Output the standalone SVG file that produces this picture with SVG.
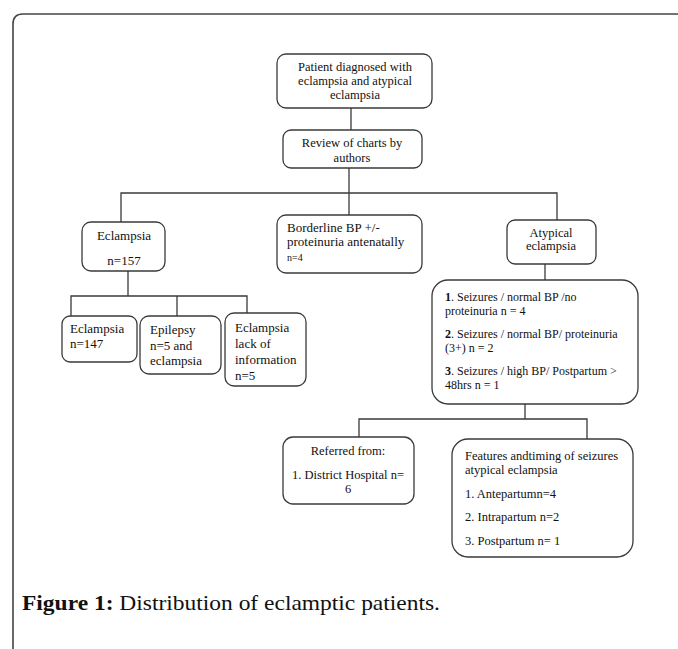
<svg xmlns="http://www.w3.org/2000/svg" width="678" height="649" viewBox="0 0 678 649">
<style>
.box{fill:#fff;stroke:#3a3a3a;stroke-width:1.3}
.ln{fill:none;stroke:#3a3a3a;stroke-width:1.3}
text{font-family:"Liberation Serif","Times New Roman",serif;font-size:12.5px;fill:#111}
.c{text-anchor:middle}
.b{font-weight:bold}
.sm{font-size:10px}
.lg{font-size:13px}
.t{font-size:12px}
.cap{font-size:21px;fill:#111}
</style>
<rect width="678" height="649" fill="#fff"/>
<path d="M13,649 V24 Q13,14 23,14 H678" fill="none" stroke="#444" stroke-width="1.6"/>
<g id="connectors">
<path class="ln" d="M351,108 V130"/>
<path class="ln" d="M349,168 V215"/>
<path class="ln" d="M121,222 V193 H557 V220"/>
<path class="ln" d="M128,271 V296"/>
<path class="ln" d="M71,316 V296 H247 V313"/>
<path class="ln" d="M177,296 V316"/>
<path class="ln" d="M545,264 V280"/>
<path class="ln" d="M525,404 V419"/>
<path class="ln" d="M359,437 V419 H587 V439"/>
</g>
<g id="n1"><rect class="box" x="277" y="54" width="155" height="54" rx="9"/>
<text class="c" x="355" y="71">Patient diagnosed with</text>
<text class="c" x="355" y="85">eclampsia and atypical</text>
<text class="c" x="355" y="99">eclampsia</text></g>
<g id="n2"><rect class="box" x="283" y="130" width="139" height="38" rx="8"/>
<text class="c" x="352" y="147">Review of charts by</text>
<text class="c" x="352" y="162">authors</text></g>
<g id="n3"><rect class="box" x="82" y="222" width="83" height="49" rx="9"/>
<text class="c lg" x="124" y="240">Eclampsia</text>
<text class="c lg" x="124" y="265">n=157</text></g>
<g id="n4"><rect class="box" x="277" y="215" width="145" height="58" rx="9"/>
<text class="lg" x="287" y="232">Borderline BP +/-</text>
<text class="lg" x="287" y="246">proteinuria antenatally</text>
<text class="sm" x="287" y="261">n=4</text></g>
<g id="n5"><rect class="box" x="507" y="220" width="89" height="44" rx="8"/>
<text class="c" x="551" y="237">Atypical</text>
<text class="c" x="551" y="250">eclampsia</text></g>
<g id="n6"><rect class="box" x="62" y="316" width="75" height="46" rx="8"/>
<text class="lg" x="70" y="333">Eclampsia</text>
<text class="lg" x="70" y="348">n=147</text></g>
<g id="n7"><rect class="box" x="140" y="316" width="81" height="58" rx="9"/>
<text class="lg" x="150" y="334">Epilepsy</text>
<text class="lg" x="150" y="350">n=5 and</text>
<text class="lg" x="150" y="365">eclampsia</text></g>
<g id="n8"><rect class="box" x="225" y="313" width="81" height="73" rx="9"/>
<text class="lg" x="235" y="332">Eclampsia</text>
<text class="lg" x="235" y="348">lack of</text>
<text class="lg" x="235" y="364">information</text>
<text class="lg" x="235" y="380">n=5</text></g>
<g id="n9"><rect class="box" x="432" y="280" width="206" height="124" rx="16"/>
<text class="b t" x="445" y="301">1</text><text class="t" x="451" y="301">. Seizures /   normal BP /no</text>
<text class="t" x="445" y="315">proteinuria n = 4</text>
<text class="b t" x="445" y="338">2</text><text class="t" x="451" y="338">. Seizures / normal BP/ proteinuria</text>
<text class="t" x="445" y="352">(3+) n = 2</text>
<text class="b t" x="445" y="375">3</text><text class="t" x="451" y="375">. Seizures / high BP/ Postpartum &gt;</text>
<text class="t" x="445" y="389">48hrs n = 1</text></g>
<g id="n10"><rect class="box" x="283" y="437" width="131" height="67" rx="10"/>
<text class="c" x="348" y="455">Referred from:</text>
<text class="c" x="348" y="479">1. District  Hospital n=</text>
<text class="c" x="348" y="493">6</text></g>
<g id="n11"><rect class="box" x="452" y="439" width="181" height="118" rx="16"/>
<text x="465" y="460">Features andtiming of seizures</text>
<text x="465" y="474">atypical eclampsia</text>
<text x="465" y="498">1. Antepartumn=4</text>
<text x="465" y="521">2. Intrapartum n=2</text>
<text x="465" y="545">3. Postpartum n= 1</text></g>
<text class="cap" x="22" y="610" textLength="418" lengthAdjust="spacingAndGlyphs"><tspan font-weight="bold">Figure 1:</tspan> Distribution of eclamptic patients.</text>
</svg>
